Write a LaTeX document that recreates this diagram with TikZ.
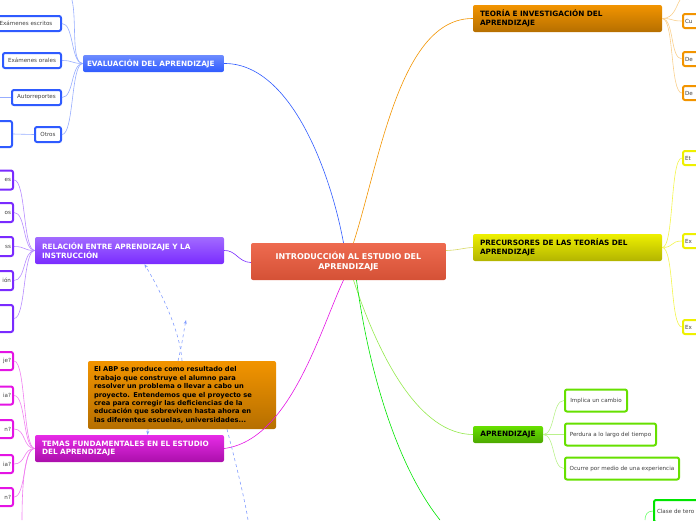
\documentclass[tikz,border=0pt]{standalone}
\usepackage{fontspec}
\setmainfont{DejaVu Sans}
\usetikzlibrary{arrows.meta}
\definecolor{colB}{HTML}{2F5BFF}
\definecolor{colP}{HTML}{7A2BFF}
\definecolor{colM}{HTML}{E414E4}
\definecolor{colO}{HTML}{F29400}
\definecolor{colY}{HTML}{EEF000}
\definecolor{colG}{HTML}{66E000}
\definecolor{colR}{HTML}{EC5A3C}
\tikzset{
 mainbox/.style={rounded corners=2pt, inner sep=0pt, align=left, font=\bfseries\fontsize{7.3}{8.6}\selectfont},
 leafbox/.style={draw, line width=2pt, rounded corners=2pt, fill=white, inner sep=0pt, font=\fontsize{5.6}{6.5}\selectfont, text=black!75},
 lk/.style={line width=0.6pt},
 dsh/.style={draw=colB!60, dashed, line width=0.6pt, -{Stealth[length=4pt]}},
}
\begin{document}
\begin{tikzpicture}[x=1pt,y=-1pt]
\useasboundingbox (0,0) rectangle (696,520);
\clip (0,0) rectangle (696,520);
% central
\node[mainbox, top color=colR!90!white, bottom color=colR!90!black, text=white, minimum width=195, minimum height=37, align=center, text width=190, font=\bfseries\fontsize{8}{9.8}\selectfont] (c) at (348.5,261.5) {INTRODUCCIÓN AL ESTUDIO DEL\\APRENDIZAJE};
% main branches
\node[mainbox, top color=colB!70!white, bottom color=colB, text=white, minimum width=141, minimum height=17, text width=133] (ev) at (153.5,63.5) {EVALUACIÓN DEL APRENDIZAJE};
\node[mainbox, top color=colP!70!white, bottom color=colP, text=white, minimum width=189, minimum height=27, text width=175] (re) at (129.5,250.5) {RELACIÓN ENTRE APRENDIZAJE Y LA\\INSTRUCCIÓN};
\node[mainbox, top color=colM!90!white, bottom color=colM!75!black, text=white, minimum width=189, minimum height=27, text width=175] (te) at (129.5,448.5) {TEMAS FUNDAMENTALES EN EL ESTUDIO\\DEL APRENDIZAJE};
\node[mainbox, top color=colO, bottom color=colO!75!black, text=black, minimum width=189, minimum height=27, text width=175] (th) at (567.5,18.5) {TEORÍA E INVESTIGACIÓN DEL\\APRENDIZAJE};
\node[mainbox, top color=colY, bottom color=colY!75!black, text=black, minimum width=189, minimum height=27, text width=175] (pr) at (567.5,247.5) {PRECURSORES DE LAS TEORÍAS DEL\\APRENDIZAJE};
\node[mainbox, top color=colG, bottom color=colG!75!black, text=black, minimum width=70, minimum height=17, align=center] (ap) at (508,434.5) {APRENDIZAJE};
\node[mainbox, top color=colO, bottom color=colO!75!black, text=black, minimum width=188, minimum height=68, text width=176, font=\bfseries\fontsize{6.7}{8.4}\selectfont] (abp) at (182,395) {El ABP se produce como resultado del\\trabajo que construye el alumno para\\resolver un problema o llevar a cabo un\\proyecto. Entendemos que el proyecto se\\crea para corregir las deficiencias de la\\educación que sobreviven hasta ahora en\\las diferentes escuelas, universidades...};
% main connectors
\draw[lk, colB] (c.north) ++(-5,0) .. controls (330,170) and (290,63) .. (ev.east);
\draw[lk, colO] (c.north) ++(5,0) .. controls (380,160) and (400,18) .. (th.west);
\draw[lk, colY!80!black!60] (c.east) ++(0,-11) .. controls (460,250) and (462,248) .. (pr.west);
\draw[lk, colP] (c.west) ++(0,1) .. controls (238,262) and (236,250) .. (re.east);
\draw[lk, colM] (c.south) ++(-5,0) .. controls (320,330) and (290,440) .. (te.east);
\draw[lk, colG!70!white] (c.south) ++(5,0) .. controls (380,360) and (420,434) .. (ap.west);
\draw[lk, green!90!black] (c.south) ++(8,0) .. controls (370,380) and (400,470) .. (440,520);
% evaluation leaves
\node[leafbox, draw=colB, minimum width=70, minimum height=15] (e1) at (26,23.5) {Exámenes escritos};
\node[leafbox, draw=colB, minimum width=58, minimum height=15] (e2) at (32,60.5) {Exámenes orales};
\node[leafbox, draw=colB, minimum width=49, minimum height=15] (e3) at (36.5,97.5) {Autorreportes};
\node[leafbox, draw=colB, minimum width=26, minimum height=15] (e4) at (48,134.5) {Otros};
\node[leafbox, draw=colB, minimum width=30, minimum height=26] (e5) at (-3,134) {};
\coordinate (etop) at (72,0);
\coordinate (e3l) at (0,97.5);
\foreach \n in {e1,e2,e3,e4} \draw[lk, colB!50] (ev.west) .. controls +(-12,0) and +(12,0) .. (\n.east);
\draw[lk, colB!50] (ev.west) .. controls +(-12,0) and +(5,20) .. (etop);
\draw[lk, colB!50] (e3.west) -- (e3l);
\draw[lk, colB!50] (e4.west) -- (e5.east);
% relacion leaves
\foreach \n/\y/\h/\t in {r1/180/19/es, r2/212.5/19/os, r3/246.5/19/ss, r4/280.5/19/ión, r5/318.5/27/{}}
 \node[leafbox, draw=colP, minimum width=40, minimum height=\h, align=right, text width=36] (\n) at (-7,\y) {\t};
\foreach \n in {r1,r2,r3,r4,r5} \draw[lk, colP!55] (re.west) .. controls +(-12,0) and +(12,0) .. (\n.east);
% temas leaves
\foreach \n/\y/\t in {t1/361/je?, t2/395.5/ia?, t3/429/n?, t4/464/ia?, t5/497/n?}
 \node[leafbox, draw=colM, minimum width=40, minimum height=18, align=right, text width=36] (\n) at (-7,\y) {\t};
\coordinate (tb) at (22,520);
\foreach \n in {t1,t2,t3,t4,t5} \draw[lk, colM!55] (te.west) .. controls +(-12,0) and +(12,0) .. (\n.east);
\draw[lk, colM!55] (te.west) .. controls +(-12,0) and +(0,-20) .. (tb);
% teoria leaves
\foreach \n/\y/\t in {h1/21/Cu, h2/59/De, h3/93/De}
 \node[leafbox, draw=colO, minimum width=40, minimum height=14, align=left, text width=36] (\n) at (703,\y) {\t};
\coordinate (htop) at (680,0);
\foreach \n in {h1,h2,h3} \draw[lk, colO!45] (th.east) .. controls +(12,0) and +(-12,0) .. (\n.west);
\draw[lk, colO!45] (th.east) .. controls +(12,0) and +(-4,6) .. (htop);
% precursores leaves
\foreach \n/\y/\t in {p1/158/Et, p2/241/Ex, p3/327/Ex}
 \node[leafbox, draw=colY, minimum width=40, minimum height=14, align=left, text width=36] (\n) at (703,\y) {\t};
\foreach \n in {p1,p2,p3} \draw[lk, colY!70] (pr.east) .. controls +(12,0) and +(-12,0) .. (\n.west);
% aprendizaje leaves
\node[leafbox, draw=colG, minimum width=62, minimum height=22] (a1) at (596,400.5) {Implica un cambio};
\node[leafbox, draw=colG, minimum width=91, minimum height=22] (a2) at (610.5,434.5) {Perdura a lo largo del tiempo};
\node[leafbox, draw=colG, minimum width=114, minimum height=22] (a3) at (622,468.5) {Ocurre por medio de una experiencia};
\foreach \n in {a1,a2,a3} \draw[lk, colG!45] (ap.east) .. controls +(12,0) and +(-12,0) .. (\n.west);
\node[leafbox, draw=green!90!black, minimum width=60, minimum height=22, align=left, text width=54] (cl) at (684,511) {Clase de tero};
\coordinate (clb) at (645,520);
\draw[lk, green!60] (cl.west) .. controls +(-6,0) and +(0,-5) .. (clb);
% dashed relations
\coordinate (db) at (248,520);
\draw[dsh] (abp.north) .. controls (180,330) and (160,290) .. ([xshift=15]re.south);
\draw[dsh] (abp.north) ++(-4,0) .. controls (182,345) and (184,330) .. (186,320);
\draw[dsh] (abp.south) ++(-34,0) -- ([xshift=18]te.north);
\draw[draw=colB!60, dashed, line width=0.6pt] (abp.south) ++(45,0) .. controls (235,460) and (245,500) .. (db);
\end{tikzpicture}
\end{document}
